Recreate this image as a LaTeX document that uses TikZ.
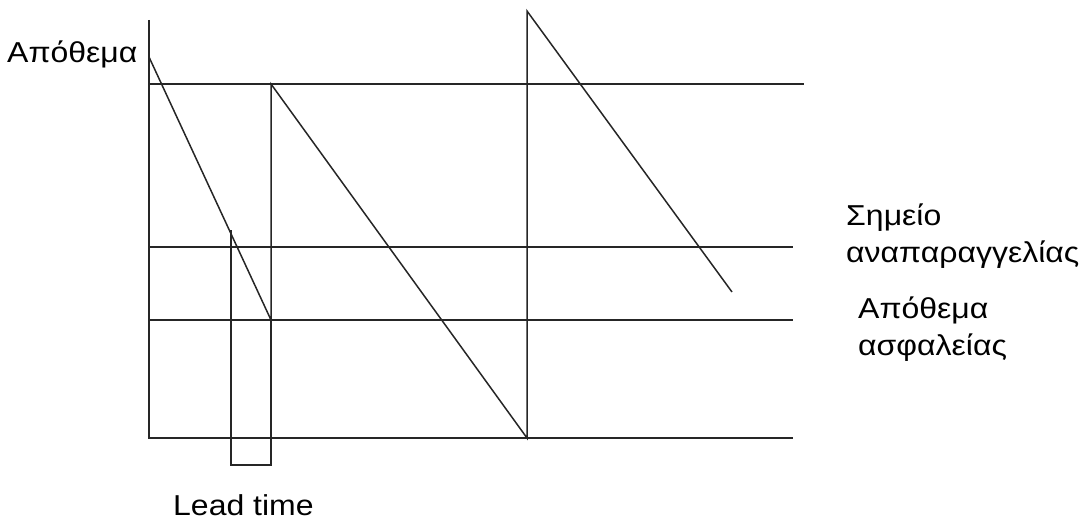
\documentclass[tikz,border=0pt]{standalone}
\usepackage{fontspec}
\setmainfont{Liberation Sans}
\newcommand{\sqz}[1]{\scalebox{1}[0.9]{#1}}
\begin{document}
\begin{tikzpicture}[x=1pt,y=-1pt,
  ln/.style={line width=1.5pt,draw=black!85},
  lbl/.style={inner sep=0pt,anchor=base west,font=\fontsize{32}{37}\selectfont}]
\useasboundingbox (0,0) rectangle (1088,519);
% key points
\coordinate (axtop) at (149,20);
\coordinate (o) at (149,438);
\coordinate (bend) at (793,438);
\coordinate (tl) at (149,84);
\coordinate (tr) at (804,84);
\coordinate (rl) at (149,247);
\coordinate (rr) at (793,247);
\coordinate (sl) at (149,320);
\coordinate (sr) at (793,320);
\coordinate (s0) at (149,57);
\coordinate (m1) at (271,320);
\coordinate (p1) at (271,84);
\coordinate (m2) at (527,438);
\coordinate (p2) at (527,11);
\coordinate (e3) at (732,292);
\coordinate (lt1) at (231,230);
\coordinate (lt2) at (231,465);
\coordinate (lt3) at (271,465);
% axes and level lines
\draw[ln] (axtop) -- (o) -- (bend);
\draw[ln] (tl) -- (tr);
\draw[ln] (rl) -- (rr);
\draw[ln] (sl) -- (sr);
% saw-tooth
\draw[ln] (s0) -- (m1) -- (p1) -- (m2) -- (p2) -- (e3);
% lead time box
\draw[ln] (lt1) -- (lt2) -- (lt3) -- (m1);
% labels
\node[lbl] (apo) at (7,63) {\sqz{Απόθεμα}};
\node[lbl] (sim1) at (846,225) {\sqz{Σημείο}};
\node[lbl] (sim2) at (846,262) {\sqz{αναπαραγγελίας}};
\node[lbl] (asf1) at (858,318) {\sqz{Απόθεμα}};
\node[lbl] (asf2) at (858,355) {\sqz{ασφαλείας}};
\node[lbl] (lead) at (173,515) {\sqz{Lead time}};
\end{tikzpicture}
\end{document}
